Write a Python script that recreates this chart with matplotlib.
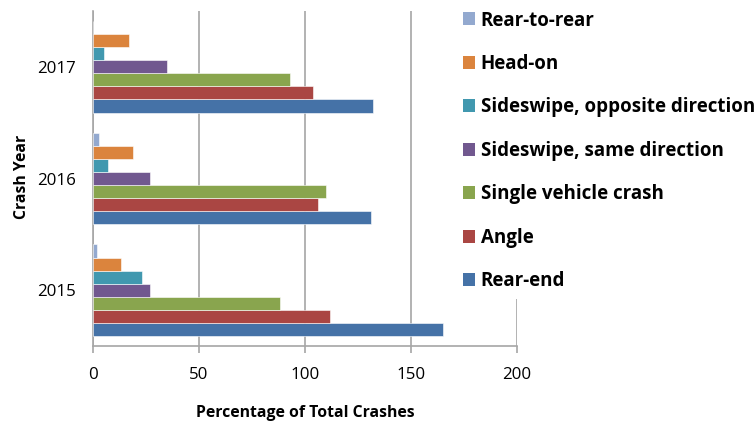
import matplotlib
matplotlib.use("Agg")
import matplotlib.pyplot as plt
from matplotlib.patches import Patch
import numpy as np

years = ["2015", "2016", "2017"]
series = ["Rear-end", "Angle", "Single vehicle crash", "Sideswipe, same direction",
          "Sideswipe, opposite direction", "Head-on", "Rear-to-rear"]
rear_end = [165, 131, 132]
angle = [112, 106, 104]
single_vehicle = [88, 110, 93]
sideswipe_same = [27, 27, 35]
sideswipe_opposite = [23, 7, 5]
head_on = [13, 19, 17]
rear_to_rear = [2, 3, 0]
values = [rear_end, angle, single_vehicle, sideswipe_same, sideswipe_opposite, head_on, rear_to_rear]
colors = ["#4572A7", "#AA4643", "#89A54E", "#71588F", "#4198AF", "#DB843D", "#93A9CF"]
xticks = [0, 50, 100, 150, 200]

plt.rcParams['font.family'] = ['Open Sans', 'DejaVu Sans']

fig = plt.figure(figsize=(7.55, 4.22), dpi=100)
ax = fig.add_axes([93/755, 1-346/422, (517-93)/755, (346-11)/422])

n = len(series)
h = 0.117
y = np.arange(len(years))
for i, (vals, c) in enumerate(zip(values, colors)):
    off = (i - (n - 1) / 2) * h
    ax.barh(y + off, vals, height=h, color=c, edgecolor="white", linewidth=0.4, zorder=3)

ax.set_xlim(0, 200)
ax.set_ylim(-0.5, 2.5)
ax.set_xticks(xticks)
ax.set_xticklabels([str(t) for t in xticks], fontsize=12.2)
ax.set_yticks(y)
ax.set_yticklabels(years, fontsize=12.2)
ax.grid(axis="x", color="#A6A6A6", linewidth=1.2, zorder=1)
for s in ["top", "right"]:
    ax.spines[s].set_visible(False)
for s in ["left", "bottom"]:
    ax.spines[s].set_color("#A6A6A6")
    ax.spines[s].set_linewidth(1.2)
ax.tick_params(axis="x", length=5, width=1.2, color="#A6A6A6", pad=10)
ax.tick_params(axis="y", length=0, pad=12.5)

ax.set_xlabel("Percentage of Total Crashes", fontsize=11.3, fontweight="bold")
ax.set_ylabel("Crash Year", fontsize=11.3, fontweight="bold")
ax.xaxis.set_label_coords(0.5, (346 - 413) / 335, transform=ax.transAxes)
ax.xaxis.label.set_va("center")
ax.yaxis.set_label_coords((22 - 93) / 424, 0.505, transform=ax.transAxes)
ax.yaxis.label.set_va("center")

handles = [Patch(facecolor=c, edgecolor="none") for c in colors][::-1]
labels = series[::-1]
leg = ax.legend(handles, labels, loc="upper left", bbox_to_anchor=(455/755, 1 - 3/422),
                bbox_transform=fig.transFigure, frameon=True, facecolor="white",
                edgecolor="none", framealpha=1, fancybox=False,
                prop={"family": "Open Sans", "weight": "bold", "size": 13.5},
                handlelength=0.68, handleheight=0.68, handletextpad=0.3,
                labelspacing=1.25, borderaxespad=0, borderpad=0.4)
leg.set_zorder(5)

fig.savefig("out.png", dpi=100)
